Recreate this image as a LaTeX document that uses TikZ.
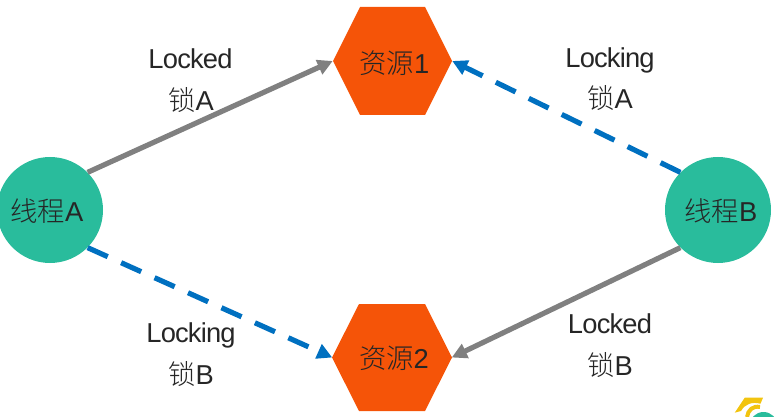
\documentclass[tikz,border=0pt]{standalone}
\usepackage{fontspec}
\setmainfont{Liberation Sans}
\newfontfamily\cjk{Noto Sans CJK SC Light}
\newfontfamily\tightfont[LetterSpace=-3]{Liberation Sans}
\usetikzlibrary{arrows.meta}
\definecolor{teal1}{HTML}{29BC9C}
\definecolor{orange1}{HTML}{F55408}
\definecolor{blue1}{HTML}{0070C0}
\definecolor{gray1}{HTML}{808080}
\definecolor{ink}{HTML}{262626}
\definecolor{gold}{HTML}{F2C40F}
\tikzset{
  thread/.style={circle,fill=teal1,minimum size=79.5pt,inner sep=0pt},
  res/.style={rectangle,minimum width=89.25pt,minimum height=80.5pt,inner sep=0pt},
  lbl/.style={align=center,text=ink,inner sep=0pt,font=\fontsize{20.5}{24}\selectfont},
  held/.style={draw=gray1,line width=3.9pt,-{Triangle[length=11.3pt,width=11.3pt]}},
  wait/.style={draw=blue1,line width=3.9pt,dash pattern=on 16.5pt off 11pt,-{Triangle[length=11.3pt,width=11.3pt]}},
}
\begin{document}
\begin{tikzpicture}[x=0.75pt,y=-0.75pt]
\useasboundingbox (0,0) rectangle (778,417);
\fill[orange1] (333,61) -- (360,7) -- (425,7) -- (452,61) -- (425,115) -- (360,115) -- cycle;
\fill[orange1] (332,357.5) -- (359,304) -- (425,304) -- (452,357.5) -- (425,411) -- (359,411) -- cycle;
\node[res] (r1) at (392.5,61) {};
\node[res] (r2) at (392,357.5) {};
\node[thread] (a) at (50,210) {};
\node[thread] (b) at (718,210) {};
\draw[held] (a.45) -- (r1.west);
\draw[wait] (b.135) -- (r1.east);
\draw[wait] (a.-45) -- (r2.west);
\draw[held] (b.-135) -- (r2.east);
\node[lbl] (t1) at (394.5,63) {{\cjk 资源}1};
\node[lbl] (t2) at (394,358.5) {{\cjk 资源}2};
\node[lbl] (t3) at (47,211) {{\cjk 线程}A};
\node[lbl] (t4) at (721,211) {{\cjk 线程}B};
\node[lbl] (l1) at (190.5,59) {\tightfont Locked};
\node[lbl] (l2) at (191,100.5) {{\cjk 锁}A};
\node[lbl] (l3) at (610,60) {\tightfont Locking};
\node[lbl] (l4) at (610,98.5) {{\cjk 锁}A};
\node[lbl] (l5) at (191,335) {\tightfont Locking};
\node[lbl] (l6) at (191,374.5) {{\cjk 锁}B};
\node[lbl] (l7) at (610,323.5) {\tightfont Locked};
\node[lbl] (l8) at (610,365) {{\cjk 锁}B};
\begin{scope}
\clip (0,0) rectangle (778,417);
\fill[gold] (744.7,397.7) -- (763,397.7) -- (760.5,403.7) .. controls (752,401.5) and (745,404) .. (741,411) -- (734.7,412.7) -- cycle;
\draw[gold,line width=3pt] (747,417) .. controls (748,410) and (753,405.5) .. (760,407);
\fill[teal1] (763.5,426) circle[radius=14];
\end{scope}
\end{tikzpicture}
\end{document}
